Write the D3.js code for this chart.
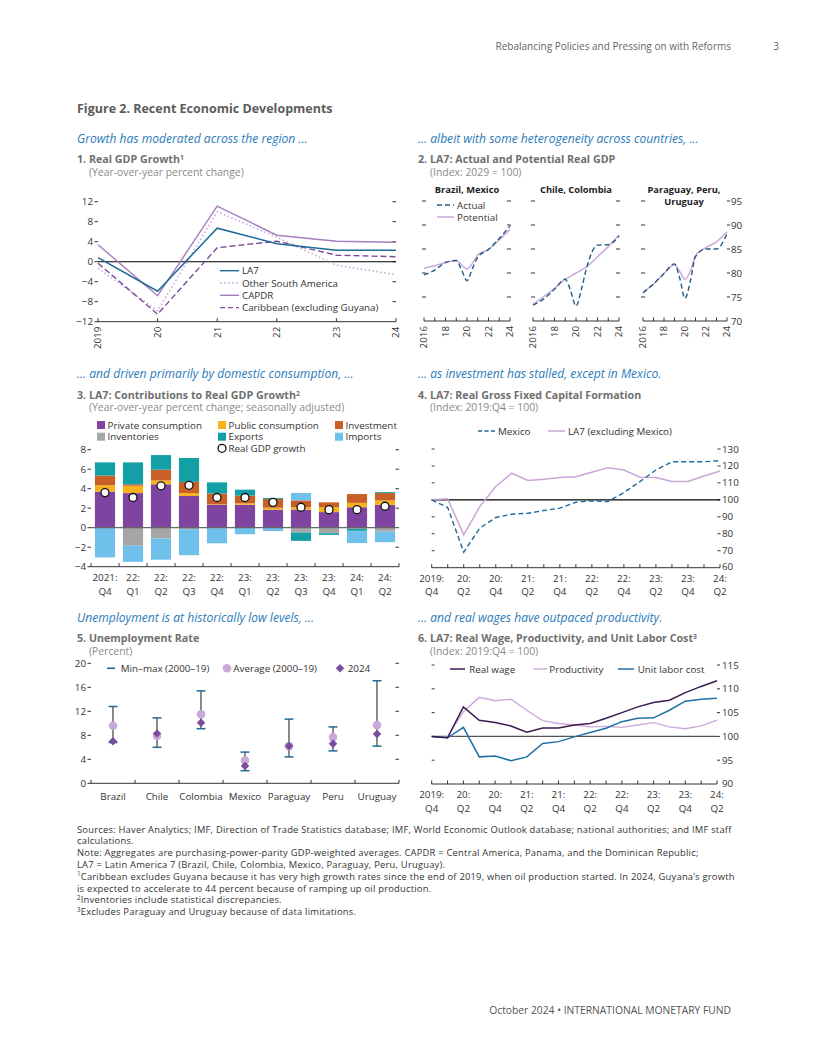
<!DOCTYPE html>
<html><head><meta charset="utf-8">
<script src="https://cdn.jsdelivr.net/npm/d3@7"></script>
<style>
body{margin:0;background:#fff}
svg text{font-family:"Open Sans","Noto Sans",sans-serif}
</style></head><body>
<svg id="c" width="816" height="1056"></svg>
<script>
// ---------------- DATA ----------------
// Panel 1
const p1Years = ["2019","20","21","22","23","24"];
const p1LA7 = [0.8,-5.9,6.7,3.6,2.3,2.3];
const p1OtherSA = [-1.3,-9.8,10.0,4.9,-0.7,-2.6];
const p1CAPDR = [3.4,-6.8,11.1,5.3,4.1,3.9];
const p1Caribbean = [-0.3,-10.5,2.8,4.1,1.3,1.0];
const p1Ticks = [-12,-8,-4,0,4,8,12];

// Panel 2
const p2X = [2016,2017,2018,2019,2019.5,2020,2020.5,2021,2022,2023,2024];
const p2Facets = ["Brazil, Mexico","Chile, Colombia","Paraguay, Peru, Uruguay"];
const p2BrMxActual = [79.6,80.6,82.2,82.6,80.6,78.4,80.9,83.3,84.9,87.2,89.8];
const p2BrMxPotential = [81.0,81.5,82.2,82.6,81.7,80.8,82.0,83.75,84.9,86.9,89.1];
const p2ChCoActual = [73.3,74.6,76.6,78.7,76.3,73.1,76.6,81.2,85.8,85.9,87.7];
const p2ChCoPotential = [73.5,75.1,76.8,78.7,79.3,80.0,80.6,81.3,83.4,85.5,87.9];
const p2PaPeUyActual = [75.9,77.7,79.9,81.9,78.9,74.7,78.2,83.4,85.0,85.0,88.2];
const p2PaPeUyPotential = [75.9,77.7,79.9,81.7,80.3,78.7,80.3,83.6,85.3,86.5,88.6];
const p2YTicks = [75,80,85,90,95];
const p2XLabels = [2016,2018,2020,2022,2024];

// Panel 3
const p3Quarters = [["2021:","Q4"],["22:","Q1"],["22:","Q2"],["22:","Q3"],["22:","Q4"],["23:","Q1"],["23:","Q2"],["23:","Q3"],["23:","Q4"],["24:","Q1"],["24:","Q2"]];
const p3PrivateCons = [3.7,3.55,4.45,3.25,2.35,2.35,1.85,1.85,1.6,2.1,2.35];
const p3PublicCons = [0.65,0.75,0.4,0.3,0.05,0.15,0.2,0.25,0.5,0.45,0.45];
const p3Investment = [1.0,0.15,1.1,1.15,1.1,0.8,0.9,0.7,0.5,0.9,0.75];
const p3Inventories = [0,-1.85,-1.1,-0.15,-0.05,0,0,-0.5,-0.57,-0.12,-0.4];
const p3Exports = [1.35,2.25,1.5,2.45,1.15,0.6,0.1,-0.85,-0.17,-0.2,0.1];
const p3Imports = [-3.05,-1.65,-2.18,-2.67,-1.55,-0.67,-0.35,0.76,0,-1.26,-1.08];
const p3GDP = [3.6,3.1,4.3,4.35,3.1,3.1,2.6,2.1,1.85,1.85,2.2];
const p3Ticks = [-4,-2,0,2,4,6,8];

// Panel 4 & 6 quarters
const qLabels = [["2019:","Q4"],["20:","Q2"],["20:","Q4"],["21:","Q2"],["21:","Q4"],["22:","Q2"],["22:","Q4"],["23:","Q2"],["23:","Q4"],["24:","Q2"]];
const quarters = ["2019Q4","2020Q1","2020Q2","2020Q3","2020Q4","2021Q1","2021Q2","2021Q3","2021Q4","2022Q1","2022Q2","2022Q3","2022Q4","2023Q1","2023Q2","2023Q3","2023Q4","2024Q1","2024Q2"];
const p4Mexico = [100,95.5,69.2,83.3,89.6,91.5,92.1,93.7,95.1,98.6,99.4,99.0,104.3,110.8,117.6,122.5,122.5,122.5,123.1];
const p4LA7exMex = [100,100.6,79.4,96,107.9,115.7,111.4,112.2,113.2,113.7,116.3,119,117.6,113.4,113.2,110.8,110.8,114.1,117];
const p4Ticks = [60,70,80,90,100,110,120,130];

// Panel 5
const p5Countries = ["Brazil","Chile","Colombia","Mexico","Paraguay","Peru","Uruguay"];
const p5Min = [6.8,6.0,9.1,2.1,4.4,5.4,6.2];
const p5Max = [12.8,10.9,15.4,5.2,10.7,9.4,17.1];
const p5Avg = [9.6,7.9,11.5,3.8,6.2,7.7,9.7];
const p5Y2024 = [7.0,8.3,10.1,2.9,6.2,6.6,8.2];
const p5Ticks = [0,4,8,12,16,20];

// Panel 6
const p6RealWage = [100,99.7,106.2,103.4,102.9,102.2,100.9,101.75,101.75,102.4,102.7,103.8,105.0,106.2,107.1,107.6,109.2,110.5,111.7];
const p6Productivity = [100,99.9,105.2,108.2,107.5,107.8,105.5,103.3,102.7,102.4,102.0,102.1,101.9,102.4,102.9,102.0,101.6,102.2,103.4];
const p6ULC = [100,99.7,101.9,95.7,95.9,94.9,95.7,98.5,98.9,99.9,100.8,101.7,103.1,103.8,103.9,105.5,107.4,107.8,108.0];
const p6Ticks = [90,95,100,105,110,115];

// ---------------- HELPERS ----------------
const svg = d3.select("#c");
const FS = 9.8;
function fmt(v){ return v<0 ? "\u2212"+Math.abs(v) : String(v); }
function T(x,y,s,o={}){
  const t = svg.append("text").attr("x",x).attr("y",y)
    .attr("font-size",o.size||FS).attr("fill",o.fill||"#333")
    .attr("text-anchor",o.anchor||"start");
  if(o.weight) t.attr("font-weight",o.weight);
  if(o.style) t.attr("font-style",o.style);
  if(o.ls) t.attr("letter-spacing",o.ls);
  t.text(s);
  return t;
}
function sup(t, s){ t.append("tspan").attr("font-size","0.65em").attr("dy","-0.45em").text(s); }
const AX = "#333";
function hline(x1,x2,y,c,w){ svg.append("line").attr("x1",x1).attr("x2",x2).attr("y1",y).attr("y2",y).attr("stroke",c||AX).attr("stroke-width",w||1); }
function vline(x,y1,y2,c,w){ svg.append("line").attr("x1",x).attr("x2",x).attr("y1",y1).attr("y2",y2).attr("stroke",c||AX).attr("stroke-width",w||1); }
function yTicks(scale, ticks, x, len){
  ticks.forEach(v=>{
    const y = scale(v);
    svg.append("line").attr("x1",x).attr("x2",x+len).attr("y1",y).attr("y2",y).attr("stroke",AX).attr("stroke-width",1);
  });
}
function yLabels(scale, ticks, x, anchor){
  ticks.forEach(v=>{ T(x, scale(v)+3.5, fmt(v), {anchor:anchor}); });
}
function bottomAxis(x1,x2,y,tickXs){
  hline(x1,x2,y,AX,1);
  tickXs.forEach(x=>vline(x,y-3.5,y,AX,1));
}
function rotLabel(x,y,s){
  svg.append("text").attr("transform",`translate(${x},${y}) rotate(-90)`)
    .attr("text-anchor","end").attr("dy","0.35em").attr("font-size",FS).attr("fill","#333").text(s);
}
function linePath(xs, ys, xsc, ysc, color, w, dash, curve){
  const g = d3.line().x((d,i)=>xsc(xs[i])).y(d=>ysc(d));
  if(curve) g.curve(curve);
  const p = svg.append("path").attr("d", g(ys)).attr("fill","none").attr("stroke",color).attr("stroke-width",w||1.4);
  if(dash) p.attr("stroke-dasharray",dash);
  return p;
}
function legLine(x1,x2,y,color,dash,w){
  const l = svg.append("line").attr("x1",x1).attr("x2",x2).attr("y1",y).attr("y2",y).attr("stroke",color).attr("stroke-width",w||1.4);
  if(dash) l.attr("stroke-dasharray",dash);
}

const HEAD = "#2b7bb9", TITLE = "#707070", SUB = "#8a8a8a";
const HS = 12.1, TS = 10.7, SS = 10.4;

// ---------------- PAGE TEXT ----------------
T(731,50,"Rebalancing Policies and Pressing on with Reforms",{anchor:"end",size:10,fill:"#666"});
T(779,50,"3",{anchor:"end",size:10,fill:"#666"});
T(77,113,"Figure 2. Recent Economic Developments",{size:12.5,weight:"bold",fill:"#5c5c5c"});

T(77,143,"Growth has moderated across the region ...",{size:HS,style:"italic",fill:HEAD});
T(418,143,"... albeit with some heterogeneity across countries, ...",{size:HS,style:"italic",fill:HEAD});
T(77,378,"... and driven primarily by domestic consumption, ...",{size:HS,style:"italic",fill:HEAD});
T(418,378,"... as investment has stalled, except in Mexico.",{size:HS,style:"italic",fill:HEAD});
T(77,622,"Unemployment is at historically low levels, ...",{size:HS,style:"italic",fill:HEAD});
T(418,622,"... and real wages have outpaced productivity.",{size:HS,style:"italic",fill:HEAD});

sup(T(77,163,"1. Real GDP Growth",{size:TS,weight:"bold",fill:TITLE}),"1");
T(89,176,"(Year-over-year percent change)",{size:SS,fill:SUB});
T(418,163,"2. LA7: Actual and Potential Real GDP",{size:TS,weight:"bold",fill:TITLE});
T(430,176,"(Index: 2029 = 100)",{size:SS,fill:SUB});
sup(T(77,399,"3. LA7: Contributions to Real GDP Growth",{size:TS,weight:"bold",fill:TITLE}),"2");
T(89,411,"(Year-over-year percent change; seasonally adjusted)",{size:SS,fill:SUB});
T(418,399,"4. LA7: Real Gross Fixed Capital Formation",{size:TS,weight:"bold",fill:TITLE});
T(430,411,"(Index: 2019:Q4 = 100)",{size:SS,fill:SUB});
T(77,642,"5. Unemployment Rate",{size:TS,weight:"bold",fill:TITLE});
T(89,655,"(Percent)",{size:SS,fill:SUB});
sup(T(418,642,"6. LA7: Real Wage, Productivity, and Unit Labor Cost",{size:TS,weight:"bold",fill:TITLE}),"3");
T(430,655,"(Index: 2019:Q4 = 100)",{size:SS,fill:SUB});

// ---------------- PANEL 1 ----------------
{
  const x = d3.scalePoint().domain(p1Years).range([98,396]);
  const y = d3.scaleLinear().domain([-12,12]).range([321.7,201.7]);
  yTicks(y,p1Ticks,98,-3.5);
  yLabels(y,p1Ticks,93,"end");
  yTicks(y,p1Ticks.filter(v=>v>-12),396,-3.5);
  hline(98,396,y(0),"#000",1.1);
  bottomAxis(98,396,y(-12),p1Years.map(d=>x(d)));
  p1Years.forEach(d=>rotLabel(x(d),y(-12)+5,d));
  linePath(p1Years,p1OtherSA,x,y,"#c7a3d6",1.5,"1.5,2.5");
  linePath(p1Years,p1CAPDR,x,y,"#a87dc0",1.4);
  linePath(p1Years,p1Caribbean,x,y,"#7a4c9b",1.4,"6,3");
  linePath(p1Years,p1LA7,x,y,"#1e6a9a",1.5);
  const items=[["LA7","#1e6a9a",null],["Other South America","#c7a3d6","1.5,2.5"],["CAPDR","#a87dc0",null],["Caribbean (excluding Guyana)","#7a4c9b","5,3"]];
  items.forEach((it,i)=>{ const yy=270.7+i*12.3; legLine(220,239,yy,it[1],it[2]); T(242,yy+3.5,it[0]); });
}

// ---------------- PANEL 2 ----------------
{
  const y = d3.scaleLinear().domain([70,95]).range([321,201]);
  const ranges = [[424,510],[533,619],[643,727]];
  const act = [p2BrMxActual,p2ChCoActual,p2PaPeUyActual];
  const pot = [p2BrMxPotential,p2ChCoPotential,p2PaPeUyPotential];
  const years = d3.range(2016,2025);
  ranges.forEach((r,k)=>{
    const x = d3.scaleLinear().domain([2016,2024]).range(r);
    p2YTicks.forEach(v=>{
      svg.append("line").attr("x1",r[0]-2).attr("x2",r[0]+2).attr("y1",y(v)).attr("y2",y(v)).attr("stroke",AX);
      if(k<2) svg.append("line").attr("x1",r[1]-3).attr("x2",r[1]+1).attr("y1",y(v)).attr("y2",y(v)).attr("stroke",AX);
      else svg.append("line").attr("x1",r[1]).attr("x2",r[1]+3).attr("y1",y(v)).attr("y2",y(v)).attr("stroke",AX);
    });
    bottomAxis(r[0],r[1],y(70),years.map(d=>x(d)));
    p2XLabels.forEach(d=>rotLabel(x(d),y(70)+5,d===2016?"2016":String(d%100)));
    linePath(p2X,pot[k],x,y,"#cba9da",1.5,null,d3.curveMonotoneX);
    linePath(p2X,act[k],x,y,"#1f5c85",1.4,"5,3",d3.curveMonotoneX);
  });
  yLabels(y,[75,80,85,90,95],731,"start");
  T(731,y(70)+3.5,"70");
  T(467,193,"Brazil, Mexico",{anchor:"middle",size:9.3,weight:"bold",fill:"#222"});
  T(576,193,"Chile, Colombia",{anchor:"middle",size:9.3,weight:"bold",fill:"#222"});
  T(684,193,"Paraguay, Peru,",{anchor:"middle",size:9.3,weight:"bold",fill:"#222"});
  T(684,205,"Uruguay",{anchor:"middle",size:9.3,weight:"bold",fill:"#222"});
  legLine(437,454,205,"#1f5c85","5,3");
  T(457,208.5,"Actual");
  legLine(437,454,217,"#cba9da",null,1.5);
  T(457,220.5,"Potential");
}

// ---------------- PANEL 3 ----------------
{
  const keys = ["priv","pub","inv","invent","exp","imp"];
  const colors = {priv:"#7e44a0",pub:"#f5b21d",inv:"#c85f26",invent:"#a6a6a6",exp:"#12a0a6",imp:"#6fc1ec"};
  const names = {priv:"Private consumption",pub:"Public consumption",inv:"Investment",invent:"Inventories",exp:"Exports",imp:"Imports"};
  const rows = p3Quarters.map((q,i)=>({i:i,priv:p3PrivateCons[i],pub:p3PublicCons[i],inv:p3Investment[i],invent:p3Inventories[i],exp:p3Exports[i],imp:p3Imports[i]}));
  const x = d3.scaleBand().domain(d3.range(p3Quarters.length)).range([91,399]).paddingInner(0.28).paddingOuter(0.14);
  const y = d3.scaleLinear().domain([-4,8]).range([566.7,449.7]);
  const stack = d3.stack().keys(keys).offset(d3.stackOffsetDiverging)(rows);
  stack.forEach(s=>{
    svg.append("g").selectAll("rect").data(s).join("rect")
      .attr("x",d=>x(d.data.i)).attr("width",x.bandwidth())
      .attr("y",d=>y(Math.max(d[0],d[1]))).attr("height",d=>Math.abs(y(d[0])-y(d[1])))
      .attr("fill",colors[s.key]);
  });
  hline(91,399,y(0),"#666",1.2);
  yTicks(y,p3Ticks,91,-3.5);
  yLabels(y,p3Ticks,86,"end");
  yTicks(y,p3Ticks.filter(v=>v>-4&&v!==0),399,-3.5);
  const step = x.step();
  const bx = d3.range(p3Quarters.length+1).map(i=>i===0?91:(i===p3Quarters.length?399:x(i)-step*0.14));
  bottomAxis(91,399,y(-4),bx);
  p3Quarters.forEach((q,i)=>{
    const cx = x(i)+x.bandwidth()/2;
    T(cx,581,q[0],{anchor:"middle"});
    T(cx,595,q[1],{anchor:"middle"});
  });
  svg.append("g").selectAll("circle").data(p3GDP).join("circle")
    .attr("cx",(d,i)=>x(i)+x.bandwidth()/2).attr("cy",d=>y(d)).attr("r",4)
    .attr("fill","#fff").attr("stroke","#111").attr("stroke-width",1.3);
  const leg = [["priv",97,425],["pub",218,425],["inv",335,425],["invent",97,436.7],["exp",218,436.7],["imp",335,436.7]];
  leg.forEach(l=>{
    svg.append("rect").attr("x",l[1]).attr("y",l[2]-4).attr("width",8).attr("height",8).attr("fill",colors[l[0]]);
    T(l[1]+10.5,l[2]+3.5,names[l[0]]);
  });
  svg.append("circle").attr("cx",222).attr("cy",448.3).attr("r",4).attr("fill","#fff").attr("stroke","#111").attr("stroke-width",1.3);
  T(228.5,451.8,"Real GDP growth");
}

// ---------------- PANEL 4 ----------------
{
  const x = d3.scalePoint().domain(quarters).range([431.7,720]);
  const y = d3.scaleLinear().domain([60,130]).range([567.7,449]);
  p4Ticks.filter(v=>v>60).forEach(v=>{
    svg.append("line").attr("x1",431.7).attr("x2",434.5).attr("y1",y(v)).attr("y2",y(v)).attr("stroke",AX);
    svg.append("line").attr("x1",717.5).attr("x2",720.5).attr("y1",y(v)).attr("y2",y(v)).attr("stroke",AX);
  });
  p4Ticks.forEach(v=>T(722,y(v)+(v===60?2.5:3.5),String(v)));
  hline(431.7,720,y(100),"#000",1.1);
  bottomAxis(431.7,720,y(60),quarters.map(q=>x(q)));
  qLabels.forEach((q,i)=>{
    const cx = x(quarters[i*2]);
    T(cx,581.5,q[0],{anchor:"middle"});
    T(cx,595,q[1],{anchor:"middle"});
  });
  linePath(quarters,p4LA7exMex,x,y,"#c9a6d6",1.5);
  linePath(quarters,p4Mexico,x,y,"#1f6a9a",1.4,"5,3");
  legLine(478,495,431,"#1f6a9a","4,2.5");
  T(498,434.5,"Mexico");
  legLine(548,565,431,"#c9a6d6",null,1.5);
  T(568,434.5,"LA7 (excluding Mexico)");
}

// ---------------- PANEL 5 ----------------
{
  const x = d3.scaleBand().domain(p5Countries).range([91,399]);
  const y = d3.scaleLinear().domain([0,20]).range([783.3,663.3]);
  yTicks(y,p5Ticks,91,-3.5);
  yLabels(y,p5Ticks,86,"end");
  yTicks(y,p5Ticks.filter(v=>v>0),399,-3.5);
  bottomAxis(91,399,y(0),d3.range(p5Countries.length+1).map(i=>91+i*x.step()));
  p5Countries.forEach(c=>T(x(c)+x.bandwidth()/2,800,c,{anchor:"middle"}));
  p5Countries.forEach((c,i)=>{
    const cx = x(c)+x.bandwidth()/2;
    vline(cx,y(p5Min[i]),y(p5Max[i]),"#2a2a2a",1.1);
    hline(cx-4.5,cx+4.5,y(p5Min[i]),"#1f6a9a",1.5);
    hline(cx-4.5,cx+4.5,y(p5Max[i]),"#1f6a9a",1.5);
  });
  svg.append("g").selectAll("circle").data(p5Avg).join("circle")
    .attr("cx",(d,i)=>x(p5Countries[i])+x.bandwidth()/2).attr("cy",d=>y(d)).attr("r",4.3).attr("fill","#c8a9d8");
  const dia = d3.symbol().type(d3.symbolSquare).size(36);
  svg.append("g").selectAll("path").data(p5Y2024).join("path")
    .attr("transform",(d,i)=>`translate(${x(p5Countries[i])+x.bandwidth()/2},${y(d)}) rotate(45)`)
    .attr("d",dia).attr("fill","#7b4c9e");
  hline(107,115,668.3,"#1f6a9a",1.6);
  T(120.7,671.8,"Min\u2013max (2000\u201319)");
  svg.append("circle").attr("cx",227).attr("cy",668.3).attr("r",4.3).attr("fill","#c8a9d8");
  T(233.3,671.8,"Average (2000\u201319)");
  svg.append("path").attr("transform","translate(340,668.3) rotate(45)").attr("d",dia).attr("fill","#7b4c9e");
  T(347.7,671.8,"2024");
}

// ---------------- PANEL 6 ----------------
{
  const x = d3.scalePoint().domain(quarters).range([431.7,717]);
  const y = d3.scaleLinear().domain([90,115]).range([784,665]);
  p6Ticks.filter(v=>v>90&&v!==100).forEach(v=>{
    svg.append("line").attr("x1",431.7).attr("x2",434.5).attr("y1",y(v)).attr("y2",y(v)).attr("stroke",AX);
  });
  p6Ticks.filter(v=>v>90).forEach(v=>{
    svg.append("line").attr("x1",717).attr("x2",720).attr("y1",y(v)).attr("y2",y(v)).attr("stroke",AX);
  });
  p6Ticks.forEach(v=>T(722,y(v)+(v===90?2.5:3.5),String(v)));
  hline(431.7,717,y(100),"#555",1.1);
  bottomAxis(431.7,717,y(90),quarters.map(q=>x(q)));
  qLabels.forEach((q,i)=>{
    const cx = x(quarters[i*2]);
    T(cx,798,q[0],{anchor:"middle"});
    T(cx,812,q[1],{anchor:"middle"});
  });
  linePath(quarters,p6Productivity,x,y,"#cbaadb",1.4);
  linePath(quarters,p6ULC,x,y,"#1f6fa6",1.5);
  linePath(quarters,p6RealWage,x,y,"#3b1a4e",1.5);
  legLine(450,465,669,"#3b1a4e",null,1.5);
  T(469.3,672.5,"Real wage");
  legLine(533,547,669,"#cbaadb",null,1.4);
  T(549.3,672.5,"Productivity");
  legLine(618,634,669,"#1f6fa6",null,1.5);
  T(637.7,672.5,"Unit labor cost");
}

// ---------------- FOOTNOTES ----------------
const notes = [
  ["","Sources: Haver Analytics; IMF, Direction of Trade Statistics database; IMF, World Economic Outlook database; national authorities; and IMF staff"],
  ["","calculations."],
  ["","Note: Aggregates are purchasing-power-parity GDP-weighted averages. CAPDR = Central America, Panama, and the Dominican Republic;"],
  ["","LA7 = Latin America 7 (Brazil, Chile, Colombia, Mexico, Paraguay, Peru, Uruguay)."],
  ["1","Caribbean excludes Guyana because it has very high growth rates since the end of 2019, when oil production started. In 2024, Guyana\u2019s growth"],
  ["","is expected to accelerate to 44 percent because of ramping up oil production."],
  ["2","Inventories include statistical discrepancies."],
  ["3","Excludes Paraguay and Uruguay because of data limitations."]
];
notes.forEach((n,i)=>{
  const t = svg.append("text").attr("x",77).attr("y",832.5+i*11.8).attr("font-size",9.4).attr("letter-spacing",0.22).attr("fill","#333");
  if(n[0]){ t.append("tspan").attr("font-size",6.2).attr("dy",-3.5).text(n[0]); t.append("tspan").attr("dy",3.5).text(n[1]); }
  else t.text(n[1]);
});
T(731,1014,"October 2024 \u2022 INTERNATIONAL MONETARY FUND",{anchor:"end",size:10.3,fill:"#555"});
</script>
</body></html>
